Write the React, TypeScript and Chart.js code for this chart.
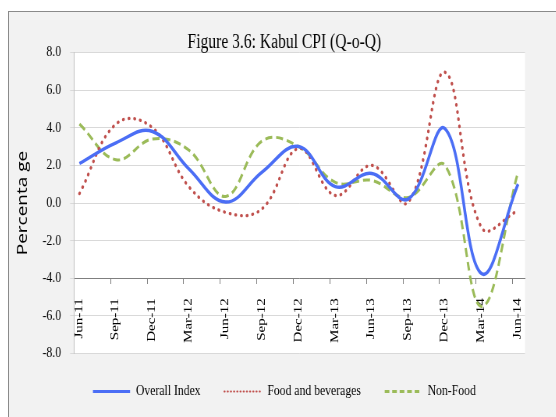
import React, { useEffect, useRef } from 'react';
import { Chart, registerables } from 'chart.js';

Chart.register(...registerables);

// ---- data ----
const quarters = ['Jun-11', 'Sep-11', 'Dec-11', 'Mar-12', 'Jun-12', 'Sep-12', 'Dec-12', 'Mar-13', 'Jun-13', 'Sep-13', 'Dec-13', 'Mar-14', 'Jun-14'];
const overallIndex = [2.1, 3.2, 3.8, 1.8, 0.05, 1.65, 3.0, 0.87, 1.57, 0.22, 3.95, -3.75, 1.0];
const foodAndBeverages = [0.5, 4.2, 4.0, 0.85, -0.5, -0.3, 2.9, 0.4, 2.0, 0.05, 6.95, -1.3, -0.4];
const nonFood = [4.2, 2.3, 3.4, 2.8, 0.35, 3.3, 3.0, 1.1, 1.2, 0.3, 2.0, -5.5, 1.65];
const seriesNames = ['Overall Index', 'Food and beverages', 'Non-Food'];

// ---- layout / style constants ----
const SERIF = "'Liberation Serif', 'Times New Roman', serif";
const SQUISH = 0.78; // the reference picture is horizontally condensed
const CANVAS_W = 706;
const CANVAS_H = 397;
const DATA_OFFSET = 0.15; // points sit mid-month after the quarter tick
const AXIS_MAX = 12.34;

const lineColors = ['#4b6ef5', '#c0504d', '#9bbb59'];
const lineWidths = [3.5, 3.3, 3];
const lineDashes: number[][] = [[], [0.5, 6.8], [9, 5]];
const lineCaps = ['butt', 'round', 'butt'];
const legendWidths = [3, 2.2, 3];
const legendDashes: number[][] = [[], [0.5, 3.6], [6, 3.6]];

const plotBackground = {
  id: 'plotBackground',
  beforeDraw(chart: any) {
    const { ctx, chartArea: a } = chart;
    ctx.save();
    ctx.fillStyle = '#ffffff';
    ctx.fillRect(a.left, a.top, a.right - a.left, a.bottom - a.top);
    ctx.restore();
  },
};

export default function App() {
  const canvasRef = useRef<HTMLCanvasElement | null>(null);

  useEffect(() => {
    const canvas = canvasRef.current;
    if (!canvas) return;
    const series = [overallIndex, foodAndBeverages, nonFood];
    const chart = new Chart(canvas, {
      type: 'line',
      data: {
        datasets: series.map((values, s) => ({
          label: seriesNames[s],
          data: values.map((v, i) => ({ x: i + DATA_OFFSET, y: v })),
          borderColor: lineColors[s],
          backgroundColor: lineColors[s],
          borderWidth: lineWidths[s],
          borderDash: lineDashes[s],
          borderCapStyle: lineCaps[s] as any,
          pointRadius: 0,
          pointHoverRadius: 0,
          tension: 0.4,
          fill: false,
        })),
      },
      options: {
        responsive: false,
        animation: false,
        devicePixelRatio: 1,
        layout: { padding: 0 },
        events: [],
        scales: {
          x: {
            type: 'linear',
            min: 0,
            max: AXIS_MAX,
            position: { y: -4 } as any,
            afterBuildTicks: (s: any) => {
              s.ticks = quarters.map((_, i) => ({ value: i }));
            },
            afterFit: (s: any) => {
              s.height = 0;
            },
            ticks: {
              autoSkip: false,
              minRotation: 90,
              maxRotation: 90,
              padding: 15,
              labelOffset: 6.4,
              color: '#000',
              font: { family: SERIF, size: 15 },
              callback: (v: any) => quarters[Math.round(Number(v))] ?? '',
            },
            grid: { drawOnChartArea: false, drawTicks: true, tickLength: 5, color: '#7f7f7f' },
            border: { display: true, color: '#7f7f7f', width: 1 },
          },
          y: {
            type: 'linear',
            position: 'left',
            min: -8,
            max: 8,
            afterFit: (s: any) => {
              s.width = 83.3;
            },
            ticks: {
              stepSize: 2,
              padding: 11.6,
              color: '#000',
              font: { family: SERIF, size: 15 },
              callback: (v: any) => Number(v).toFixed(1),
            },
            grid: { color: '#d9d9d9', tickLength: 5 },
            border: { color: '#c4c4c4' },
            title: {
              display: true,
              text: 'Percenta ge',
              color: '#000',
              font: { family: "'Open Sans', 'Liberation Sans', sans-serif", size: 19 },
              padding: { top: 6, bottom: 0 },
            },
          },
          y2: {
            type: 'linear',
            position: 'right',
            min: 0,
            max: 1,
            grid: { display: false, drawTicks: false },
            ticks: { display: false },
            border: { display: false },
            afterFit: (s: any) => {
              s.width = 44.5;
            },
          },
        },
        plugins: {
          tooltip: { enabled: false },
          title: {
            display: true,
            text: 'Figure 3.6: Kabul CPI (Q-o-Q)',
            color: '#000',
            font: { family: SERIF, size: 20, weight: 'normal', lineHeight: 1 },
            padding: { top: 20.5, bottom: 0 },
          },
          legend: {
            position: 'bottom',
            labels: {
              usePointStyle: true,
              pointStyleWidth: 47.6,
              padding: 30.5,
              color: '#000',
              font: { family: SERIF, size: 15 },
              generateLabels: (c: any) =>
                c.data.datasets.map((ds: any, i: number) => ({
                  text: ds.label,
                  fillStyle: 'rgba(0,0,0,0)',
                  strokeStyle: ds.borderColor,
                  lineWidth: legendWidths[i],
                  lineDash: legendDashes[i],
                  lineCap: lineCaps[i],
                  pointStyle: 'line',
                  hidden: false,
                  datasetIndex: i,
                  fontColor: '#000',
                })),
            },
          },
        },
      },
      plugins: [plotBackground],
    } as any);
    return () => chart.destroy();
  }, []);

  return (
    <div
      style={{
        position: 'absolute',
        left: 8,
        top: 11,
        width: 548,
        height: 406,
        overflow: 'hidden',
        background: '#f2f2f2',
        borderLeft: '1px solid #8a8a8a',
        borderTop: '1px solid #8a8a8a',
        boxSizing: 'border-box',
      }}
    >
      <div
        style={{
          width: CANVAS_W,
          height: CANVAS_H,
          transform: `scaleX(${SQUISH})`,
          transformOrigin: '0 0',
        }}
      >
        <canvas ref={canvasRef} width={CANVAS_W} height={CANVAS_H} style={{ display: 'block' }} />
      </div>
    </div>
  );
}
